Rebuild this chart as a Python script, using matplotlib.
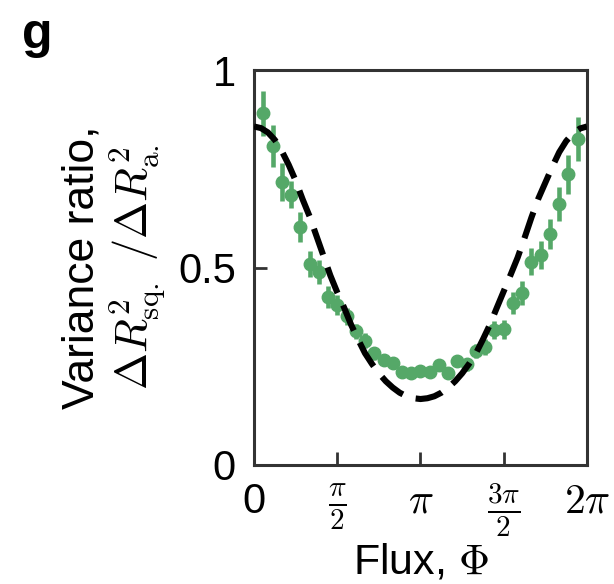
import matplotlib
matplotlib.use("Agg")

import numpy as np
import matplotlib.pyplot as plt

# measured variance ratio vs flux (index k -> k * 2pi/36)
flux_index = [1, 2, 3, 4, 5, 6, 7, 8, 9, 10, 11, 12, 13, 14, 15, 16, 17, 18,
              19, 20, 21, 22, 23, 24, 25, 26, 27, 28, 29, 30, 31, 32, 33, 34, 35]
ratio = [0.891, 0.808, 0.716, 0.684, 0.603, 0.509, 0.489, 0.426, 0.405, 0.376,
         0.338, 0.315, 0.283, 0.266, 0.259, 0.236, 0.232, 0.239, 0.236, 0.253,
         0.234, 0.263, 0.255, 0.289, 0.298, 0.342, 0.344, 0.410, 0.436, 0.515,
         0.532, 0.584, 0.661, 0.736, 0.825]
ratio_err = [0.057, 0.053, 0.048, 0.034, 0.038, 0.033, 0.030, 0.028, 0.025, 0.022,
             0.020, 0.018, 0.016, 0.015, 0.014, 0.013, 0.013, 0.013, 0.013, 0.014,
             0.014, 0.015, 0.016, 0.018, 0.020, 0.022, 0.024, 0.027, 0.030, 0.034,
             0.036, 0.038, 0.044, 0.049, 0.055]

# theory curve (steps of pi/24)
theory_index = list(range(49))
theory = [0.857, 0.853, 0.842, 0.823, 0.795, 0.760, 0.720, 0.673, 0.630, 0.580,
          0.530, 0.480, 0.437, 0.398, 0.355, 0.318, 0.283, 0.256, 0.232, 0.212,
          0.196, 0.183, 0.174, 0.169, 0.167, 0.169, 0.174, 0.183, 0.196, 0.212,
          0.232, 0.256, 0.283, 0.318, 0.355, 0.398, 0.440, 0.482, 0.525, 0.575,
          0.627, 0.675, 0.715, 0.755, 0.792, 0.820, 0.840, 0.852, 0.857]

xtick_labels = ["0", r"$\frac{\pi}{2}$", r"$\pi$", r"$\frac{3\pi}{2}$", r"$2\pi$"]

plt.rcParams["font.family"] = ["Liberation Sans", "DejaVu Sans"]
plt.rcParams["mathtext.fontset"] = "cm"

green = "#55a868"
spine_col = "#333333"

phi = np.array(flux_index) * 2 * np.pi / 36
phi_th = np.array(theory_index) * np.pi / 24

fig = plt.figure(figsize=(6.14, 5.84), dpi=100)
ax = fig.add_axes([0.4137, 0.2038, 0.5423, 0.6763])

ax.plot(phi_th, theory, color="black", linewidth=4.4,
        dashes=(4.5, 2.2), zorder=3)

ax.errorbar(phi, ratio, yerr=ratio_err, fmt="o", color=green,
            markersize=9, elinewidth=3.3, capsize=0, zorder=2)

ax.set_xlim(0, 2 * np.pi)
ax.set_ylim(0, 1)

ax.set_xticks([0, np.pi / 2, np.pi, 3 * np.pi / 2, 2 * np.pi])
ax.set_xticklabels(xtick_labels)
ax.set_yticks([0, 0.5, 1])
ax.set_yticklabels(["0", "0.5", "1"])

ax.tick_params(direction="in", length=9.5, width=2, colors=spine_col,
               labelcolor="black", labelsize=30)
ax.tick_params(axis="y", pad=13)
ax.tick_params(axis="x", pad=12)

for s in ax.spines.values():
    s.set_linewidth(2.2)
    s.set_color(spine_col)

ax.set_xlabel(r"Flux, $\Phi$", fontsize=31, labelpad=2)
ax.set_ylabel("Variance ratio,\n" + r"$\Delta R^2_{\rm sq.}\ /\Delta R^2_{\rm a.}$",
              fontsize=32, labelpad=8, linespacing=1.12)

fig.text(0.036, 0.98, "g", fontsize=36, fontweight="bold", va="top", ha="left")

fig.savefig("out.png", dpi=100)
